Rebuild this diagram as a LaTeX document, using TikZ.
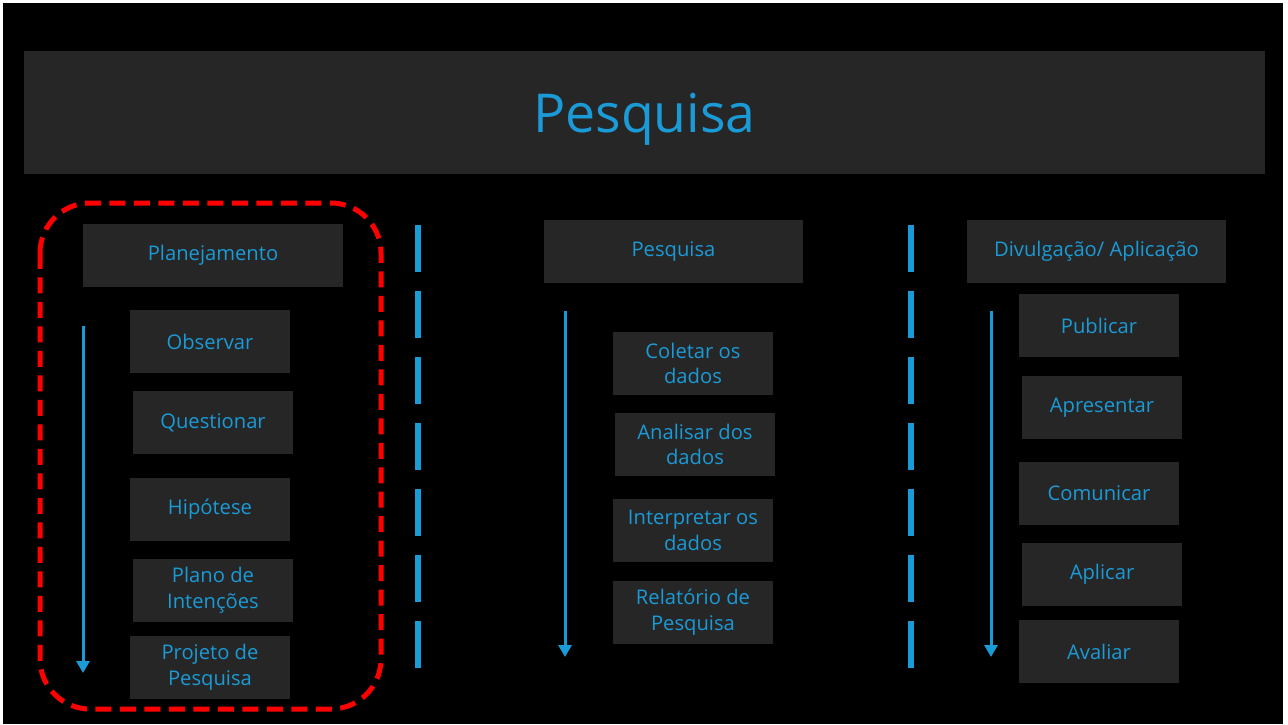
\documentclass[tikz,border=0pt]{standalone}
\usepackage{fontspec}
\setmainfont{Open Sans}
\usetikzlibrary{arrows.meta}
\definecolor{txtblue}{HTML}{1A9AD6}
\definecolor{boxgray}{HTML}{262626}
\definecolor{markred}{HTML}{FF0000}
\begin{document}
\begin{tikzpicture}[x=0.02cm,y=-0.02cm,
  box/.style={fill=boxgray, text=txtblue, minimum width=3.2cm, minimum height=1.26cm,
    align=center, inner sep=0pt, font=\fontsize{11.5}{14.7}\selectfont},
  headbox/.style={box, minimum width=5.2cm},
  sepline/.style={txtblue, line width=0.12cm, dash pattern=on 0.94cm off 0.38cm},
  flow/.style={txtblue, line width=0.06cm, -{Triangle[width=0.26cm,length=0.24cm]}}]
\def\frame{(40,203) rectangle (381,709)}

% background
\fill[white] (0,0) rectangle (1288,724);
\fill[black] (3,3) rectangle (1283,724);
\useasboundingbox (0,0) rectangle (1288,724);

% title bar
\node[fill=boxgray, text=txtblue, minimum width=24.82cm, minimum height=2.46cm,
  inner sep=0pt, text depth=0pt, font=\fontsize{30.5}{36}\selectfont] (title) at (644.5,112.5) {Pesquisa};

% separators
\draw[sepline] (418,225) -- (418,670);
\draw[sepline] (911,225) -- (911,670);

% planejamento
\node[headbox] (plan) at (213,255.5) {Planejamento};
\node[box] (obs) at (210,341.5) {Observar};
\node[box] (quest) at (213,422.5) {Questionar};
\node[box] (hip) at (210,509.5) {Hipótese};
\node[box] (plano) at (213,590.5) {Plano de\\Intenções};
\node[box] (proj) at (210,667.5) {Projeto de\\Pesquisa};
\coordinate (p1) at (83,326);
\coordinate (p2) at (83,673);
\draw[flow] (p1) -- (p2);
\draw[markred, line width=0.1cm, dash pattern=on 0.32cm off 0.17cm, rounded corners=1cm] \frame;

% pesquisa
\node[headbox] (pesq) at (673.5,251.5) {Pesquisa};
\node[box] (colet) at (693,363.5) {Coletar os\\dados};
\node[box] (anal) at (695,444.5) {Analisar dos\\dados};
\node[box] (interp) at (693,530.5) {Interpretar os\\dados};
\node[box] (relat) at (693,612.5) {Relatório de\\Pesquisa};
\coordinate (q1) at (565,311);
\coordinate (q2) at (565,657);
\draw[flow] (q1) -- (q2);

% divulgacao
\node[headbox] (divul) at (1096.5,251.5) {Divulgação/ Aplicação};
\node[box] (publ) at (1099,325.5) {Publicar};
\node[box] (apres) at (1102,407.5) {Apresentar};
\node[box] (comun) at (1099,493.5) {Comunicar};
\node[box] (aplic) at (1102,574.5) {Aplicar};
\node[box] (aval) at (1099,651.5) {Avaliar};
\coordinate (d1) at (991,311);
\coordinate (d2) at (991,657);
\draw[flow] (d1) -- (d2);
\end{tikzpicture}
\end{document}
